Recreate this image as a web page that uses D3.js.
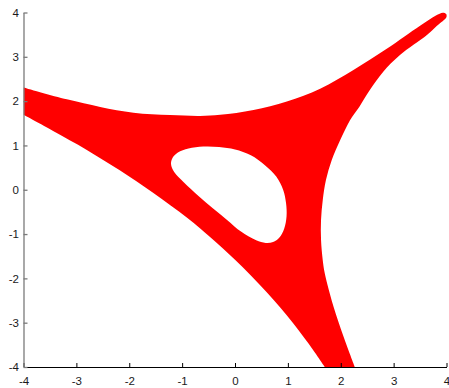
<!DOCTYPE html>
<html>
<head>
<meta charset="utf-8">
<script src="https://cdn.jsdelivr.net/npm/d3@7"></script>
<style>
  body { margin: 0; background: #fff; }
  svg { display: block; font-family: "Liberation Sans", Arial, Helvetica, sans-serif; }
</style>
</head>
<body>
<div id="chart"></div>
<script>
// region outline, data units [x, y]
// top edge: left arm upper side, running out to the tip at (4,4)
const topEdge = [
  [-4, 2.31], [-3.18, 2.04], [-2.55, 1.87], [-1.92, 1.74], [-1.23, 1.685],
  [-0.66, 1.665], [-0.28, 1.69], [0.35, 1.80], [0.98, 1.99], [1.61, 2.28],
  [2.24, 2.70], [2.87, 3.18], [3.50, 3.70], [3.80, 3.93], [3.93, 3.995]
];
// right edge: from the tip back down to the bottom axis
const rightEdge = [
  [3.99, 3.97], [4.0, 3.90], [3.82, 3.70], [3.63, 3.49], [3.12, 3.04],
  [2.80, 2.66], [2.55, 2.25], [2.35, 1.87], [2.175, 1.57], [1.99, 1.12],
  [1.83, 0.67], [1.72, 0.22], [1.66, -0.23], [1.627, -0.68], [1.627, -1.13],
  [1.659, -1.585], [1.69, -1.84], [1.75, -2.15], [1.864, -2.64], [2.054, -3.32],
  [2.265, -4]
];
// bottom edge: long diagonal from the bottom axis up to the left axis
const bottomEdge = [
  [1.70, -4], [1.48, -3.62], [1.10, -3.014], [0.60, -2.314], [0.0, -1.582],
  [-0.45, -1.087], [-0.90, -0.637], [-1.55, -0.065], [-2.18, 0.439],
  [-2.81, 0.905], [-3.44, 1.327], [-4, 1.69]
];
// the hole in the middle
const holeEdge = [
  [0.56, 0.56], [0.30, 0.78], [0.0, 0.91], [-0.30, 0.965], [-0.60, 0.975],
  [-0.88, 0.93], [-1.08, 0.84], [-1.18, 0.72], [-1.21, 0.58], [-1.15, 0.40],
  [-0.97, 0.17], [-0.68, -0.15], [-0.42, -0.42], [-0.15, -0.68], [0.12, -0.95],
  [0.40, -1.14], [0.58, -1.20], [0.72, -1.18], [0.84, -1.08], [0.93, -0.88],
  [0.975, -0.60], [0.965, -0.30], [0.91, 0.0], [0.78, 0.30]
];
const xTicks = [-4, -3, -2, -1, 0, 1, 2, 3, 4];
const yTicks = [-4, -3, -2, -1, 0, 1, 2, 3, 4];

const width = 449;
const height = 388;

const x = d3.scaleLinear().domain([-4, 4]).range([23.5, 446.5]);
const y = d3.scaleLinear().domain([-4, 4]).range([367, 12.5]);

const svg = d3.select("#chart")
  .append("svg")
  .attr("width", width)
  .attr("height", height);

svg.append("rect")
  .attr("width", width)
  .attr("height", height)
  .attr("fill", "#fff");

svg.append("clipPath")
  .attr("id", "plot-clip")
  .append("rect")
  .attr("x", x(-4))
  .attr("y", 0)
  .attr("width", width - x(-4))
  .attr("height", y(-4));

const edge = d3.line()
  .x(d => x(d[0]))
  .y(d => y(d[1]))
  .curve(d3.curveCatmullRom.alpha(0.5));

const ring = d3.line()
  .x(d => x(d[0]))
  .y(d => y(d[1]))
  .curve(d3.curveCatmullRomClosed.alpha(0.5));

// outer outline: smooth edges joined by straight cuts along the axes
const outer = edge(topEdge.concat(rightEdge)) + edge(bottomEdge).replace(/^M/, "L") + "Z";

svg.append("path")
  .attr("clip-path", "url(#plot-clip)")
  .attr("d", outer + ring(holeEdge))
  .attr("fill", "#ff0000")
  .attr("fill-rule", "evenodd");

// axes, ticks pointing inward like the original
const xAxis = svg.append("g")
  .attr("transform", `translate(0,${y(-4)})`)
  .call(d3.axisBottom(x).tickValues(xTicks).tickSizeInner(-4).tickSizeOuter(0).tickPadding(9.5));

const yAxis = svg.append("g")
  .attr("transform", `translate(${x(-4)},0)`)
  .call(d3.axisLeft(y).tickValues(yTicks).tickSizeInner(-4).tickSizeOuter(0).tickPadding(4.5));

xAxis.selectAll("path, line").attr("stroke", "#000");
yAxis.selectAll("path, line").attr("stroke", "#7a7a7a").attr("stroke-width", 1.3);

// plain hyphen minus, as in the original
svg.selectAll(".tick text")
  .text(d => String(d))
  .attr("font-size", 11.5)
  .attr("font-family", "\"Liberation Sans\", Arial, sans-serif")
  .attr("fill", "#1a1a1a");
</script>
</body>
</html>
